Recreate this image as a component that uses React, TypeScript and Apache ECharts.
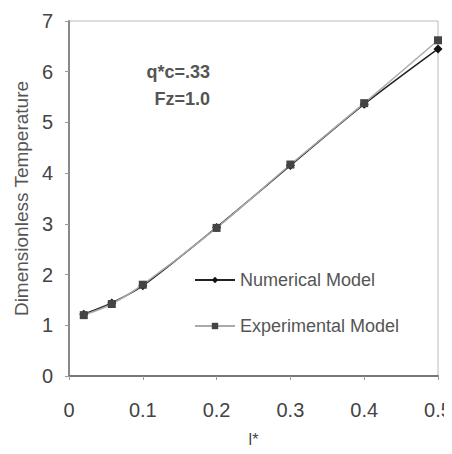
import React, { useEffect, useRef } from "react";
import * as echarts from "echarts";

const xValues = [0.02, 0.058, 0.1, 0.2, 0.3, 0.4, 0.5];
const numerical = [1.22, 1.44, 1.78, 2.93, 4.15, 5.36, 6.45];
const experimental = [1.2, 1.42, 1.8, 2.92, 4.17, 5.38, 6.62];
const annotationLines = ["q*c=.33", "Fz=1.0"];

export default function App() {
  const ref = useRef<HTMLDivElement>(null);
  useEffect(() => {
    if (!ref.current) return;
    const chart = echarts.init(ref.current, undefined, { renderer: "svg" });
    const font = "Arial, 'Liberation Sans', sans-serif";
    chart.setOption({
      animation: false,
      backgroundColor: "#fff",
      grid: {
        left: 69, right: 14, top: 21, bottom: 78,
        show: true, borderColor: "#bbb", borderWidth: 1,
        containLabel: false, outerBoundsMode: "none",
      },
      legend: {
        orient: "vertical",
        left: 189,
        top: 266,
        itemWidth: 40,
        itemHeight: 8,
        itemGap: 28,
        textStyle: { fontFamily: font, fontSize: 18, color: "#555" },
        data: ["Numerical Model", "Experimental Model"],
      },
      xAxis: {
        type: "value",
        min: 0,
        max: 0.5,
        interval: 0.1,
        name: "l*",
        nameLocation: "middle",
        nameGap: 55,
        nameTextStyle: { fontFamily: font, fontSize: 16, color: "#444" },
        axisLine: { lineStyle: { color: "#777", width: 2 } },
        axisTick: { show: true, length: 4, lineStyle: { color: "#999" } },
        axisLabel: { fontFamily: font, fontSize: 20, color: "#444", margin: 24 },
        splitLine: { show: false },
      },
      yAxis: {
        type: "value",
        min: 0,
        max: 7,
        interval: 1,
        name: "Dimensionless Temperature",
        nameLocation: "middle",
        nameGap: 35,
        nameTextStyle: { fontFamily: font, fontSize: 19, color: "#555" },
        axisLine: { show: true, lineStyle: { color: "#888", width: 2 } },
        axisTick: { show: true, length: 4, lineStyle: { color: "#999" } },
        axisLabel: { fontFamily: font, fontSize: 20, color: "#444", margin: 16 },
        splitLine: { show: false },
      },
      graphic: [
        {
          type: "text",
          x: 210,
          y: 72,
          style: {
            text: annotationLines[0],
            fontFamily: font,
            fontSize: 18,
            fontWeight: "bold",
            fill: "#555",
            align: "right",
            verticalAlign: "middle",
          },
        },
        {
          type: "text",
          x: 210,
          y: 99,
          style: {
            text: annotationLines[1],
            fontFamily: font,
            fontSize: 18,
            fontWeight: "bold",
            fill: "#555",
            align: "right",
            verticalAlign: "middle",
          },
        },
      ],
      series: [
        {
          name: "Numerical Model",
          type: "line",
          data: xValues.map((x, i) => [x, numerical[i]]),
          symbol: "diamond",
          symbolSize: 9,
          smooth: 0.3,
          lineStyle: { color: "#222", width: 1.5 },
          itemStyle: { color: "#111" },
        },
        {
          name: "Experimental Model",
          type: "line",
          data: xValues.map((x, i) => [x, experimental[i]]),
          symbol: "rect",
          symbolSize: 8,
          smooth: 0.3,
          lineStyle: { color: "#aaa", width: 1.5 },
          itemStyle: { color: "#444" },
        },
      ],
    });
    return () => chart.dispose();
  }, []);
  return <div ref={ref} style={{ width: 452, height: 454, margin: -8 }} />;
}
